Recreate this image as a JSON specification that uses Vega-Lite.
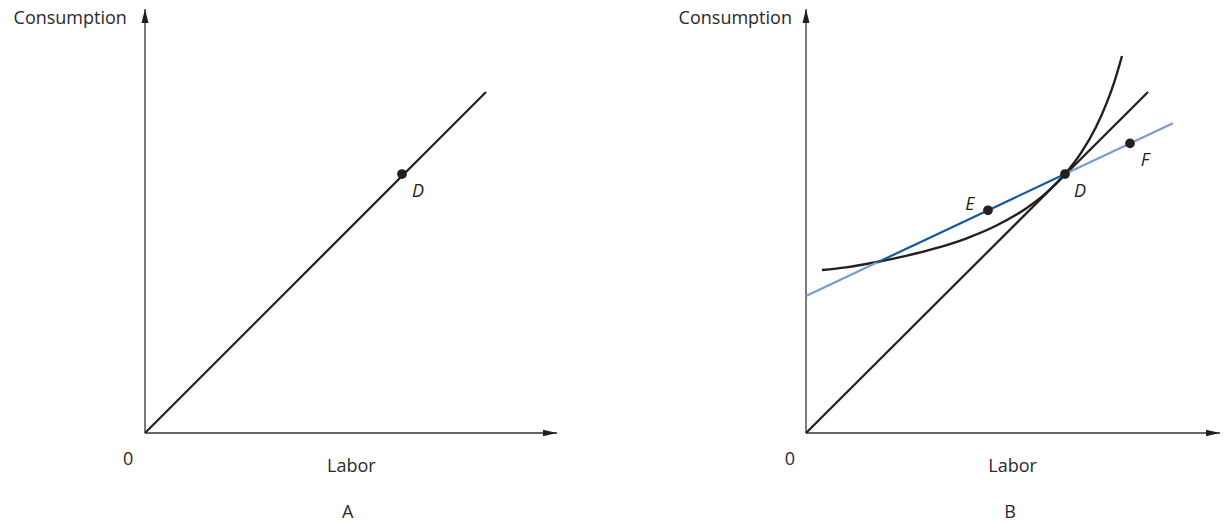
{
  "$schema": "https://vega.github.io/schema/vega-lite/v6.json",
  "width": 1227,
  "height": 524,
  "autosize": "none",
  "padding": 0,
  "background": "white",
  "config": {"view": {"stroke": null}},
  "datasets": {
    "axes": [{"x": 0, "y": 0, "x2": 100, "y2": 0}, {"x": 0, "y": 0, "x2": 0, "y2": 100}],
    "arrow_right": [{"x": 100, "y": 0}],
    "arrow_up": [{"x": 0, "y": 100}],
    "a_line": [{"x": 0, "y": 0}, {"x": 82.77, "y": 80.42}],
    "a_points": [{"x": 62.38, "y": 61.08, "name": "D"}],
    "a_text": [{"x": -4.1, "y": -6.4, "t": "0"}, {"x": 50.1, "y": -8.0, "t": "Labor"}, {"x": 49.2, "y": -18.9, "t": "A"}],
    "a_ytitle": [{"x": -4.4, "y": 97.6, "t": "Consumption"}],
    "b_line": [{"x": 0, "y": 0}, {"x": 82.61, "y": 80.42}],
    "b_budget": [
      {"x": 0, "y": 32.3, "x2": 17.15, "y2": 40.19, "tone": "light"},
      {"x": 17.15, "y": 40.19, "x2": 62.56, "y2": 61.08, "tone": "dark"},
      {"x": 62.56, "y": 61.08, "x2": 88.65, "y2": 73.08, "tone": "light"}
    ],
    "b_curve": [
      {"x": 3.86, "y": 38.44}, {"x": 9.66, "y": 39.06}, {"x": 17.15, "y": 40.33}, {"x": 24.15, "y": 41.77},
      {"x": 31.4, "y": 43.58}, {"x": 38.65, "y": 45.87}, {"x": 45.89, "y": 48.87}, {"x": 53.14, "y": 52.95},
      {"x": 57.97, "y": 56.58}, {"x": 62.56, "y": 61.08}, {"x": 66.43, "y": 66.06}, {"x": 70.05, "y": 72.19},
      {"x": 72.46, "y": 77.45}, {"x": 74.4, "y": 82.59}, {"x": 76.33, "y": 88.92}
    ],
    "b_points": [{"x": 43.96, "y": 52.53, "name": "E"}, {"x": 62.56, "y": 61.08, "name": "D"}, {"x": 78.26, "y": 68.3, "name": "F"}],
    "b_text": [{"x": -3.9, "y": -6.4, "t": "0"}, {"x": 49.9, "y": -8.0, "t": "Labor"}, {"x": 49.3, "y": -18.9, "t": "B"}],
    "b_ytitle": [{"x": -3.4, "y": 97.6, "t": "Consumption"}]
  },
  "layer": [
    {
      "encoding": {
        "x": {"field": "x", "type": "quantitative", "scale": {"domain": [0, 100], "range": [145, 557], "nice": false, "zero": false}, "axis": null},
        "y": {"field": "y", "type": "quantitative", "scale": {"domain": [0, 100], "range": [433, 9], "nice": false, "zero": false}, "axis": null}
      },
      "layer": [
        {"data": {"name": "axes"}, "mark": {"type": "rule", "color": "#333333", "strokeWidth": 1.3},
         "encoding": {"x2": {"field": "x2"}, "y2": {"field": "y2"}}},
        {"data": {"name": "arrow_right"}, "mark": {"type": "point", "shape": "M0,0L-2,-0.45L-2,0.45Z", "size": 196, "filled": true, "color": "#231f20", "opacity": 1}},
        {"data": {"name": "arrow_up"}, "mark": {"type": "point", "shape": "M0,0L0.5,2L-0.5,2Z", "size": 196, "filled": true, "color": "#231f20", "opacity": 1}},
        {"data": {"name": "a_line"}, "mark": {"type": "line", "color": "#231f20", "strokeWidth": 2.2}},
        {"data": {"name": "a_points"}, "mark": {"type": "point", "shape": "circle", "size": 95, "filled": true, "color": "#231f20", "opacity": 1}},
        {"data": {"name": "a_points"}, "mark": {"type": "text", "font": "Open Sans", "fontSize": 18, "fontStyle": "italic", "color": "#231f20", "dx": 16, "dy": 18},
         "encoding": {"text": {"field": "name"}}},
        {"data": {"name": "a_text"}, "mark": {"type": "text", "font": "Open Sans", "fontSize": 18, "color": "#2a2a2a", "align": "center", "baseline": "middle"},
         "encoding": {"text": {"field": "t"}}},
        {"data": {"name": "a_ytitle"}, "mark": {"type": "text", "font": "Open Sans", "fontSize": 18, "color": "#2a2a2a", "align": "right", "baseline": "middle"},
         "encoding": {"text": {"field": "t"}}}
      ]
    },
    {
      "encoding": {
        "x": {"field": "x", "type": "quantitative", "scale": {"domain": [0, 100], "range": [806, 1220], "nice": false, "zero": false}, "axis": null},
        "y": {"field": "y", "type": "quantitative", "scale": {"domain": [0, 100], "range": [433, 9], "nice": false, "zero": false}, "axis": null}
      },
      "layer": [
        {"data": {"name": "axes"}, "mark": {"type": "rule", "color": "#333333", "strokeWidth": 1.3},
         "encoding": {"x2": {"field": "x2"}, "y2": {"field": "y2"}}},
        {"data": {"name": "arrow_right"}, "mark": {"type": "point", "shape": "M0,0L-2,-0.45L-2,0.45Z", "size": 196, "filled": true, "color": "#231f20", "opacity": 1}},
        {"data": {"name": "arrow_up"}, "mark": {"type": "point", "shape": "M0,0L0.5,2L-0.5,2Z", "size": 196, "filled": true, "color": "#231f20", "opacity": 1}},
        {"data": {"name": "b_line"}, "mark": {"type": "line", "color": "#231f20", "strokeWidth": 2.2}},
        {"data": {"name": "b_curve"}, "mark": {"type": "line", "color": "#231f20", "strokeWidth": 2.4, "interpolate": "monotone"}},
        {"data": {"name": "b_budget"}, "mark": {"type": "rule", "strokeWidth": 2.2},
         "encoding": {"x2": {"field": "x2"}, "y2": {"field": "y2"},
           "color": {"field": "tone", "type": "nominal", "scale": {"domain": ["dark", "light"], "range": ["#135a9c", "#7b9bcb"]}, "legend": null}}},
        {"data": {"name": "b_points"}, "mark": {"type": "point", "shape": "circle", "size": 95, "filled": true, "color": "#231f20", "opacity": 1}},
        {"data": {"name": "b_points"}, "transform": [{"filter": "datum.name !== 'E'"}],
         "mark": {"type": "text", "font": "Open Sans", "fontSize": 18, "fontStyle": "italic", "color": "#231f20", "dx": 15, "dy": 18},
         "encoding": {"text": {"field": "name"}}},
        {"data": {"name": "b_points"}, "transform": [{"filter": "datum.name === 'E'"}],
         "mark": {"type": "text", "font": "Open Sans", "fontSize": 18, "fontStyle": "italic", "color": "#231f20", "dx": -18, "dy": -5},
         "encoding": {"text": {"field": "name"}}},
        {"data": {"name": "b_text"}, "mark": {"type": "text", "font": "Open Sans", "fontSize": 18, "color": "#2a2a2a", "align": "center", "baseline": "middle"},
         "encoding": {"text": {"field": "t"}}},
        {"data": {"name": "b_ytitle"}, "mark": {"type": "text", "font": "Open Sans", "fontSize": 18, "color": "#2a2a2a", "align": "right", "baseline": "middle"},
         "encoding": {"text": {"field": "t"}}}
      ]
    }
  ],
  "resolve": {"scale": {"x": "independent", "y": "independent", "color": "independent"}}
}
